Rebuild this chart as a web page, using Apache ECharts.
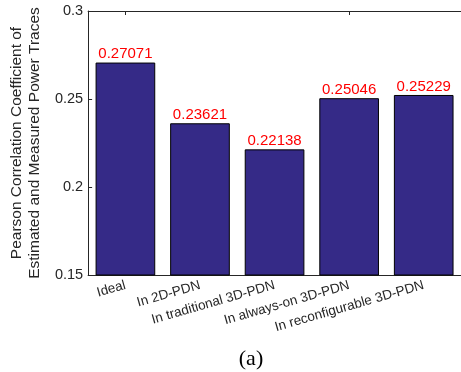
<!DOCTYPE html>
<html>
<head>
<meta charset="utf-8">
<script src="https://cdn.jsdelivr.net/npm/echarts@6/dist/echarts.min.js"></script>
<style>
html,body{margin:0;padding:0;background:#fff;}
#c{width:461px;height:372px;}
</style>
</head>
<body>
<div id="c"></div>
<script>
var categories = ['Ideal', 'In 2D-PDN', 'In traditional 3D-PDN', 'In always-on 3D-PDN', 'In reconfigurable 3D-PDN'];
var values = [0.27071, 0.23621, 0.22138, 0.25046, 0.25229];
var yTicks = [0.15, 0.2, 0.25, 0.3];
var yName = 'Pearson Correlation Coefficient of\nEstimated and Measured Power Traces';
var caption = '(a)';

var chart = echarts.init(document.getElementById('c'), null, {renderer: 'canvas'});
var axisColor = '#262626';
var font = 'Liberation Sans';
chart.setOption({
  animation: false,
  backgroundColor: '#ffffff',
  title: {
    text: caption,
    left: 246,
    top: 343,
    textAlign: 'center',
    textStyle: {fontFamily: 'Liberation Serif', fontSize: 22, fontWeight: 'normal', color: '#000'}
  },
  grid: {left: 86, width: 380, top: 11, height: 264, containLabel: false},
  xAxis: [{
    type: 'category',
    data: categories,
    position: 'bottom',
    axisLine: {show: true, lineStyle: {color: axisColor, width: 1}},
    axisTick: {show: false},
    axisLabel: {rotate: 16, margin: 10, fontSize: 13.5, fontFamily: font, color: axisColor, interval: 0}
  }, {
    type: 'category',
    data: categories,
    position: 'top',
    axisLine: {show: true, lineStyle: {color: axisColor, width: 1}},
    axisTick: {show: true, inside: true, alignWithLabel: true, length: 4, lineStyle: {color: axisColor}},
    axisLabel: {show: false}
  }],
  yAxis: {
    type: 'value',
    min: 0.15,
    max: 0.3,
    interval: 0.05,
    name: yName,
    nameLocation: 'middle',
    nameGap: 36,
    nameRotate: 90,
    nameTextStyle: {fontFamily: font, fontSize: 15.5, color: axisColor, lineHeight: 18, align: 'center'},
    axisLine: {show: true, lineStyle: {color: axisColor, width: 1}},
    axisTick: {show: true, inside: true, length: 4, lineStyle: {color: axisColor}},
    splitLine: {show: false},
    axisLabel: {
      margin: 5, fontSize: 14.5, fontFamily: font, color: axisColor,
      formatter: function (v) { return String(+v.toFixed(2)); }
    }
  },
  series: [{
    type: 'bar',
    data: values,
    barWidth: '80%',
    itemStyle: {color: '#352A87', borderColor: '#000', borderWidth: 1},
    label: {
      show: true, position: 'top', distance: 1,
      fontFamily: font, fontSize: 15, color: '#ff0000',
      formatter: function (p) { return String(p.value); }
    }
  }]
});
</script>
</body>
</html>
